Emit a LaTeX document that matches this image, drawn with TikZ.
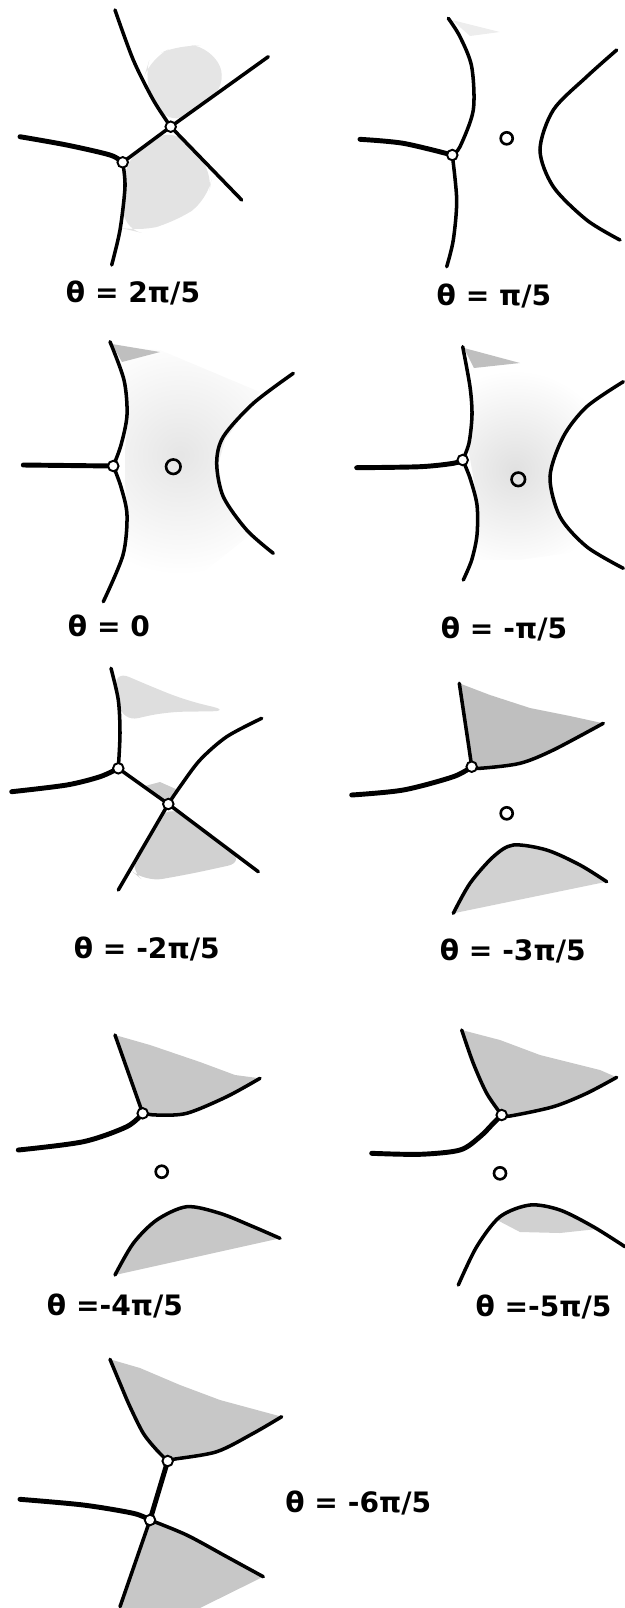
\documentclass[tikz,border=0pt]{standalone}
\usepackage{fontspec}
\usepackage{tikz}
\usetikzlibrary{calc}
\newfontfamily\lblfont{DejaVu Sans}

\begin{document}
\begin{tikzpicture}[x=0.01cm,y=-0.01cm,
	vtx/.style={circle,draw,fill=white,line width=0.55pt,inner sep=0pt,minimum size=1.05mm},
	pole/.style={circle,draw,line width=0.75pt,inner sep=0pt,minimum size=1.2mm},
	thk/.style={line width=1.4pt,line cap=round},
	thn/.style={line width=1pt,line cap=round},
	lbl/.style={font=\lblfont\fontsize{8}{9.6}\selectfont\bfseries}]

	\useasboundingbox (0,0) rectangle (625,1608);

	% theta = 2pi/5
	\coordinate (a1) at (122.7,162.3);
	\coordinate (b1) at (170.7,126.7);
	\fill[black!10,rounded corners=6] (b1) -- (153.3,100) -- (143,80) -- (150,58) -- (180,44) -- (212,47) -- (228,86) -- cycle;
	\fill[black!11,rounded corners=6] (a1) -- (b1) -- (213,170) -- (208,200) -- (175,222) -- (138,232) -- (121,228) -- (125,190) -- cycle;
	\draw[thk] plot[smooth] coordinates {(20,136.7) (66.7,145) (110,155) (a1)};
	\draw[thn] (a1) -- (b1);
	\draw[thn] plot[smooth] coordinates {(a1) (125,186.7) (120,230) (111.7,265)};
	\draw[thn] plot[smooth] coordinates {(b1) (153.3,100) (133.3,60) (115,10)};
	\draw[thn] (b1) -- (268.3,56.7);
	\draw[thn] (b1) -- (241.7,200);
	\node[vtx] (v1a) at (a1) {};
	\node[vtx] (v1b) at (b1) {};
	\node[lbl] (t1) at (133,293) {θ = 2π/5};

	% theta = pi/5
	\coordinate (a2) at (452.3,155);
	\fill[black!7] (452,20) -- (500,32) -- (470,36) -- cycle;
	\draw[thk] plot[smooth] coordinates {(360,139.3) (403.3,143.3) (a2)};
	\draw[thn] plot[smooth] coordinates {(a2) (460,146.7) (473.3,110) (471.7,66.7) (460,36.7) (448.3,18.3)};
	\draw[thn] plot[smooth] coordinates {(a2) (456.7,200) (453.3,240) (446.7,266.7)};
	\draw[thn] plot[smooth] coordinates {(616.7,50) (586.7,76.7) (553.3,110) (540,150) (553.3,186.7) (586.7,220) (620,240)};
	\node[vtx] (v2a) at (a2) {};
	\node[pole] (p2) at (506.7,138.3) {};
	\node[lbl] (t2) at (494,296) {θ = π/5};

	% theta = 0
	\coordinate (a3) at (113.3,466);
	\begin{scope}
		\clip (112,345) -- (160,350) -- (260,392) -- (225,440) -- (218,465) -- (225,500) -- (250,535) -- (200,575) -- (125,570) -- (128,513) -- (125,483) -- (125,450) -- (128,420) -- (123,383) -- cycle;
		\shade[inner color=black!10,outer color=white] (180,455) circle (120);
	\end{scope}
	\fill[black!25] (112,344) -- (160,352) -- (122,362) -- cycle;
	\draw[thk] (23.3,465) -- (a3);
	\draw[thn] plot[smooth] coordinates {(a3) (121,445) (127,415) (124,380) (110,341.7)};
	\draw[thn] plot[smooth] coordinates {(a3) (121,487) (127,515) (123,555) (103.3,601.7)};
	\draw[thn] plot[smooth] coordinates {(293.3,373.3) (253.3,403.3) (223.3,436.7) (216.7,463.3) (223.3,496.7) (246.7,530) (273.3,553.3)};
	\node[vtx] (v3a) at (a3) {};
	\node[pole,minimum size=1.45mm] (p3) at (173.3,466.7) {};
	\node[lbl] (t3) at (109,626) {θ = 0};

	% theta = -pi/5
	\coordinate (a4) at (462.7,460);
	\begin{scope}
		\clip (464,350) -- (520,362) -- (600,392) -- (563,437) -- (550,477) -- (560,517) -- (590,550) -- (520,560) -- (478,560) -- (478,527) -- (476,493) -- (468,447) -- (471.7,420) -- (470,386.7) -- cycle;
		\shade[inner color=black!12,outer color=white] (515,470) circle (100);
	\end{scope}
	\fill[black!25] (464,348) -- (520,363) -- (474,368) -- cycle;
	\draw[thk] plot[smooth] coordinates {(356.7,467.7) (420,466.7) (453.3,463.3) (a4)};
	\draw[thn] plot[smooth] coordinates {(a4) (469,443) (472,415) (470,386.7) (462.7,346.7)};
	\draw[thn] plot[smooth] coordinates {(a4) (470,478) (477,505) (477,535) (471.7,560) (463.3,580)};
	\draw[thn] plot[smooth] coordinates {(623.3,381.7) (586.7,406.7) (563.3,436.7) (550,476.7) (560,516.7) (586.7,546.7) (623.3,568.3)};
	\node[vtx] (v4a) at (a4) {};
	\node[pole,minimum size=1.35mm] (p4) at (518.3,479.3) {};
	\node[lbl] (t4) at (504,629) {θ = -π/5};

	% theta = -2pi/5
	\coordinate (a5) at (118.3,768.3);
	\coordinate (b5) at (168.3,804);
	\fill[black!13,rounded corners=5] (113,670) -- (150,686) -- (185,700) -- (230,711) -- (165,712) -- (121,722) -- (119,700) -- cycle;
	\fill[black!20] (b5) -- (145,786) -- (160,782) -- (178,790) -- cycle;
	\fill[black!18,rounded corners=5] (b5) -- (128,868) -- (145,882) -- (190,874) -- (245,862) -- cycle;
	\draw[thk] plot[smooth] coordinates {(11.7,791.7) (66.7,785) (100,776.7) (a5)};
	\draw[thn] plot[smooth] coordinates {(a5) (120,733.3) (118.3,700) (111,668.3)};
	\draw[thn] (a5) -- (b5);
	\draw[thn] plot[smooth] coordinates {(b5) (180,786.7) (200,760) (226.7,736.7) (261.7,718.3)};
	\draw[thn] (b5) -- (118.3,890);
	\draw[thn] (b5) -- (258.3,871.7);
	\node[vtx] (v5a) at (a5) {};
	\node[vtx] (v5b) at (b5) {};
	\node[lbl] (t5) at (146.7,949) {θ = -2π/5};

	% theta = -3pi/5
	\coordinate (a6) at (471.7,766.7);
	\fill[black!25] plot[smooth] coordinates {(a6) (468.3,743.3) (463.3,710) (459.3,683.3)} -- (490,695) -- (530,708) -- (570,716) -- (603.3,723.3) -- plot[smooth] coordinates {(603.3,723.3) (553.3,750) (520,763.3) (480,768.3) (a6)} -- cycle;
	\fill[black!18] plot[smooth] coordinates {(453.3,913.3) (470,883.3) (493.3,856.7) (513.3,845) (546.7,850) (580,865) (606.7,881.7)} -- cycle;
	\draw[thk] plot[smooth] coordinates {(351.7,795) (403.3,790) (453.3,776.7) (a6)};
	\draw[thn] plot[smooth] coordinates {(a6) (468.3,743.3) (463.3,710) (459.3,683.3)};
	\draw[thn] plot[smooth] coordinates {(a6) (480,768.3) (520,763.3) (553.3,750) (603.3,723.3)};
	\draw[thn] plot[smooth] coordinates {(453.3,913.3) (470,883.3) (493.3,856.7) (513.3,845) (546.7,850) (580,865) (606.7,881.7)};
	\node[vtx] (v6a) at (a6) {};
	\node[pole] (p6) at (506.7,813.3) {};
	\node[lbl] (t6) at (512.7,951) {θ = -3π/5};

	% theta = -4pi/5
	\coordinate (a7) at (142.7,1113.3);
	\fill[black!22] (a7) -- (115,1035) -- (150,1045) -- (200,1062) -- (235,1075) -- (260,1078.3) -- plot[smooth] coordinates {(260,1078.3) (226.7,1096.7) (186.7,1113.3) (156.7,1115) (a7)} -- cycle;
	\fill[black!22] plot[smooth] coordinates {(115,1275) (133.3,1243.3) (156.7,1220) (186.7,1206.7) (220,1213.3) (253.3,1226.7) (280,1238.3)} -- cycle;
	\draw[thk] plot[smooth] coordinates {(18.3,1150) (83.3,1141.7) (126.7,1126.7) (a7)};
	\draw[thn] (a7) -- (115,1035);
	\draw[thn] plot[smooth] coordinates {(a7) (156.7,1115) (186.7,1113.3) (226.7,1096.7) (260,1078.3)};
	\draw[thn] plot[smooth] coordinates {(115,1275) (133.3,1243.3) (156.7,1220) (186.7,1206.7) (220,1213.3) (253.3,1226.7) (280,1238.3)};
	\node[vtx] (v7a) at (a7) {};
	\node[pole] (p7) at (161.7,1171.7) {};
	\node[lbl] (t7) at (115,1306) {θ =-4π/5};

	% theta = -5pi/5
	\coordinate (a8) at (501.7,1115);
	\fill[black!22] plot[smooth] coordinates {(a8) (486.7,1093.3) (473.3,1063.3) (461.7,1030)} -- (500,1040) -- (540,1055) -- (600,1070) -- (616.7,1077.3) -- plot[smooth] coordinates {(616.7,1077.3) (586.7,1093.3) (553.3,1106.7) (510,1116) (a8)} -- cycle;
	\fill[black!18] plot[smooth] coordinates {(497,1220) (510,1210) (530,1205) (560,1210) (597,1229)} -- (560,1233) -- (520,1232) -- cycle;
	\draw[thk] plot[smooth] coordinates {(371.7,1153.3) (420,1154.3) (460,1150) (480,1136.7) (493.3,1123.3) (a8)};
	\draw[thn] plot[smooth] coordinates {(a8) (486.7,1093.3) (473.3,1063.3) (461.7,1030)};
	\draw[thn] plot[smooth] coordinates {(a8) (510,1116) (553.3,1106.7) (586.7,1093.3) (616.7,1077.3)};
	\draw[thn] plot[smooth] coordinates {(458.3,1285) (476.7,1246.7) (500,1216.7) (530,1205) (560,1210) (593.3,1226.7) (625,1246.7)};
	\node[vtx] (v8a) at (a8) {};
	\node[pole] (p8) at (500,1173.3) {};
	\node[lbl,anchor=east] (t8) at (624,1307) {θ =-5π/5};

	% theta = -6pi/5
	\coordinate (a9) at (167.7,1461);
	\coordinate (b9) at (150,1520);
	\fill[black!22] plot[smooth] coordinates {(a9) (156.7,1450) (143.3,1433.3) (130,1406.7) (120,1383.3) (110,1359.3)} -- (140,1368) -- (180,1385) -- (220,1400) -- (281.7,1416.7) -- plot[smooth] coordinates {(281.7,1416.7) (253.3,1433.3) (216.7,1451.7) (173.3,1459.3) (a9)} -- cycle;
	\fill[black!22] (b9) -- (120,1608) -- (200,1608) -- (263.3,1576.7) -- plot[smooth] coordinates {(263.3,1576.7) (226.7,1556.7) (186.7,1535) (b9)} -- cycle;
	\draw[thk] (a9) -- (b9);
	\draw[thn] plot[smooth] coordinates {(a9) (156.7,1450) (143.3,1433.3) (130,1406.7) (120,1383.3) (110,1359.3)};
	\draw[thn] plot[smooth] coordinates {(a9) (173.3,1459.3) (216.7,1451.7) (253.3,1433.3) (281.7,1416.7)};
	\draw[thk] plot[smooth] coordinates {(20,1499.3) (83.3,1505) (133.3,1513.3) (b9)};
	\draw[thn] (b9) -- (120,1606.7);
	\draw[thn] plot[smooth] coordinates {(b9) (186.7,1535) (226.7,1556.7) (263.3,1576.7)};
	\node[vtx] (v9a) at (a9) {};
	\node[vtx] (v9b) at (b9) {};
	\node[lbl] (t9) at (358.3,1503.3) {θ = -6π/5};
\end{tikzpicture}
\end{document}
